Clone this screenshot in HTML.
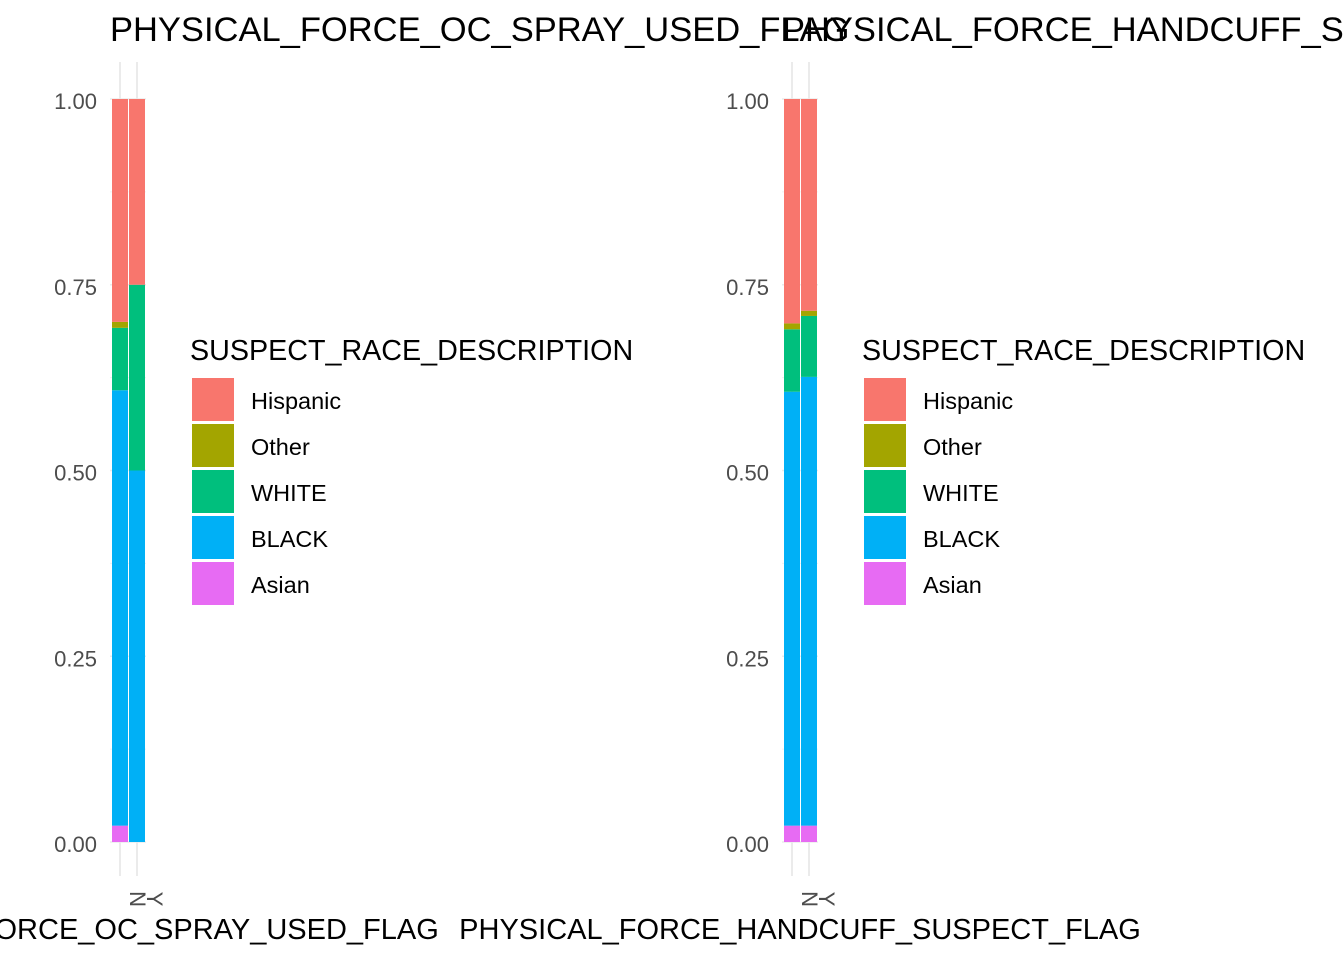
<!DOCTYPE html>
<html><head><meta charset="utf-8"><style>
html,body{margin:0;padding:0;background:#fff;width:1344px;height:960px;overflow:hidden}
svg text{font-family:"Liberation Sans",Arial,sans-serif}
</style></head><body>
<svg id="chart" width="1344" height="960" xmlns="http://www.w3.org/2000/svg"></svg>
<script>
const races = ["Asian","BLACK","WHITE","Other","Hispanic"];
const legendOrder = ["Hispanic","Other","WHITE","BLACK","Asian"];
const colors = {Hispanic:"#F8766D",Other:"#A3A500",WHITE:"#00BF7D",BLACK:"#00B0F6",Asian:"#E76BF3"};
const panelTitles = ["PHYSICAL_FORCE_OC_SPRAY_USED_FLAG","PHYSICAL_FORCE_HANDCUFF_SUSPECT_FLAG"];
const categories = ["N","Y"];
const yTicks = [0,0.25,0.5,0.75,1];
const yTickLabels = ["0.00","0.25","0.50","0.75","1.00"];
// shares per panel, per category, in order Asian, BLACK, WHITE, Other, Hispanic
const ocN = [0.022,0.586,0.084,0.008,0.300];
const ocY = [0.0,0.5,0.25,0.0,0.25];
const hcN = [0.022,0.584,0.084,0.008,0.302];
const hcY = [0.022,0.604,0.082,0.007,0.285];
const panelValues = [[ocN,ocY],[hcN,hcY]];

const svg = document.getElementById('chart');
const NS = "http://www.w3.org/2000/svg";
function mk(tag, attrs, parent){const e=document.createElementNS(NS,tag);for(const k in attrs)e.setAttribute(k,attrs[k]);(parent||svg).appendChild(e);return e;}
const y0=842, y1=99;
function yScale(v){return y0-(y0-y1)*v;}
const panelOffsets=[0,672];

panelOffsets.forEach((off,p)=>{
  const g=mk('g',{});
  
  
  const px0=110+off, px1=146+off;
  function xScale(i){return 120+off+i*17;}
  [0.125,0.375,0.625,0.875].forEach(v=>{
    const l=mk('line',{x1:px0,x2:px1,y1:yScale(v),y2:yScale(v),stroke:'#f0f0f0','stroke-width':1},g);
    
    
  });
  yTicks.forEach((v,i)=>{
    const l=mk('line',{x1:px0,x2:px1,y1:yScale(v),y2:yScale(v),stroke:'#ebebeb','stroke-width':1.5},g);
    
    
    const t=mk('text',{x:97+off,y:yScale(v)+10,'text-anchor':'end','font-size':22,fill:'#4d4d4d'},g);
    t.textContent=yTickLabels[i];
    
    
  });
  categories.forEach((c,i)=>{
    const l=mk('line',{x1:xScale(i),x2:xScale(i),y1:62,y2:876,stroke:'#ebebeb','stroke-width':2},g);
    
    
  });
  categories.forEach((c,i)=>{
    let cum=0;
    panelValues[p][i].forEach((v,k)=>{
      if(v<=0){return;}
      const top=yScale(cum+v), bot=yScale(cum);
      const r=mk('rect',{x:xScale(i)-8,y:top,width:16,height:bot-top,fill:colors[races[k]]},g);
      
      
      cum+=v;
    });
    const t=mk('text',{x:0,y:0,'font-size':22,fill:'#4d4d4d','text-anchor':'middle',transform:`translate(${xScale(i)+10},899) rotate(90)`},g);
    t.textContent=c;
    
    
  });
  const tt=mk('text',{x:110+off,y:41,'font-size':34.5,fill:'#000'},g);
  tt.textContent=panelTitles[p];
  
  
  const xt=mk('text',{x:(p===0?128:800),y:939,'font-size':29,fill:'#000','text-anchor':'middle'},g);
  xt.textContent=panelTitles[p];
  
  
  const lg=mk('g',{},g);
  
  
  const lt=mk('text',{x:190+off,y:360,'font-size':28.7,fill:'#000'},lg);
  lt.textContent='SUSPECT_RACE_DESCRIPTION';
  
  
  legendOrder.forEach((r,i)=>{
    const k=mk('rect',{x:192+off,y:378+46*i,width:42,height:43,fill:colors[r]},lg);
    
    
    const t=mk('text',{x:251+off,y:409+46*i,'font-size':23.5,fill:'#000'},lg);
    t.textContent=r;
    
    
  });
});
</script>
</body></html>
